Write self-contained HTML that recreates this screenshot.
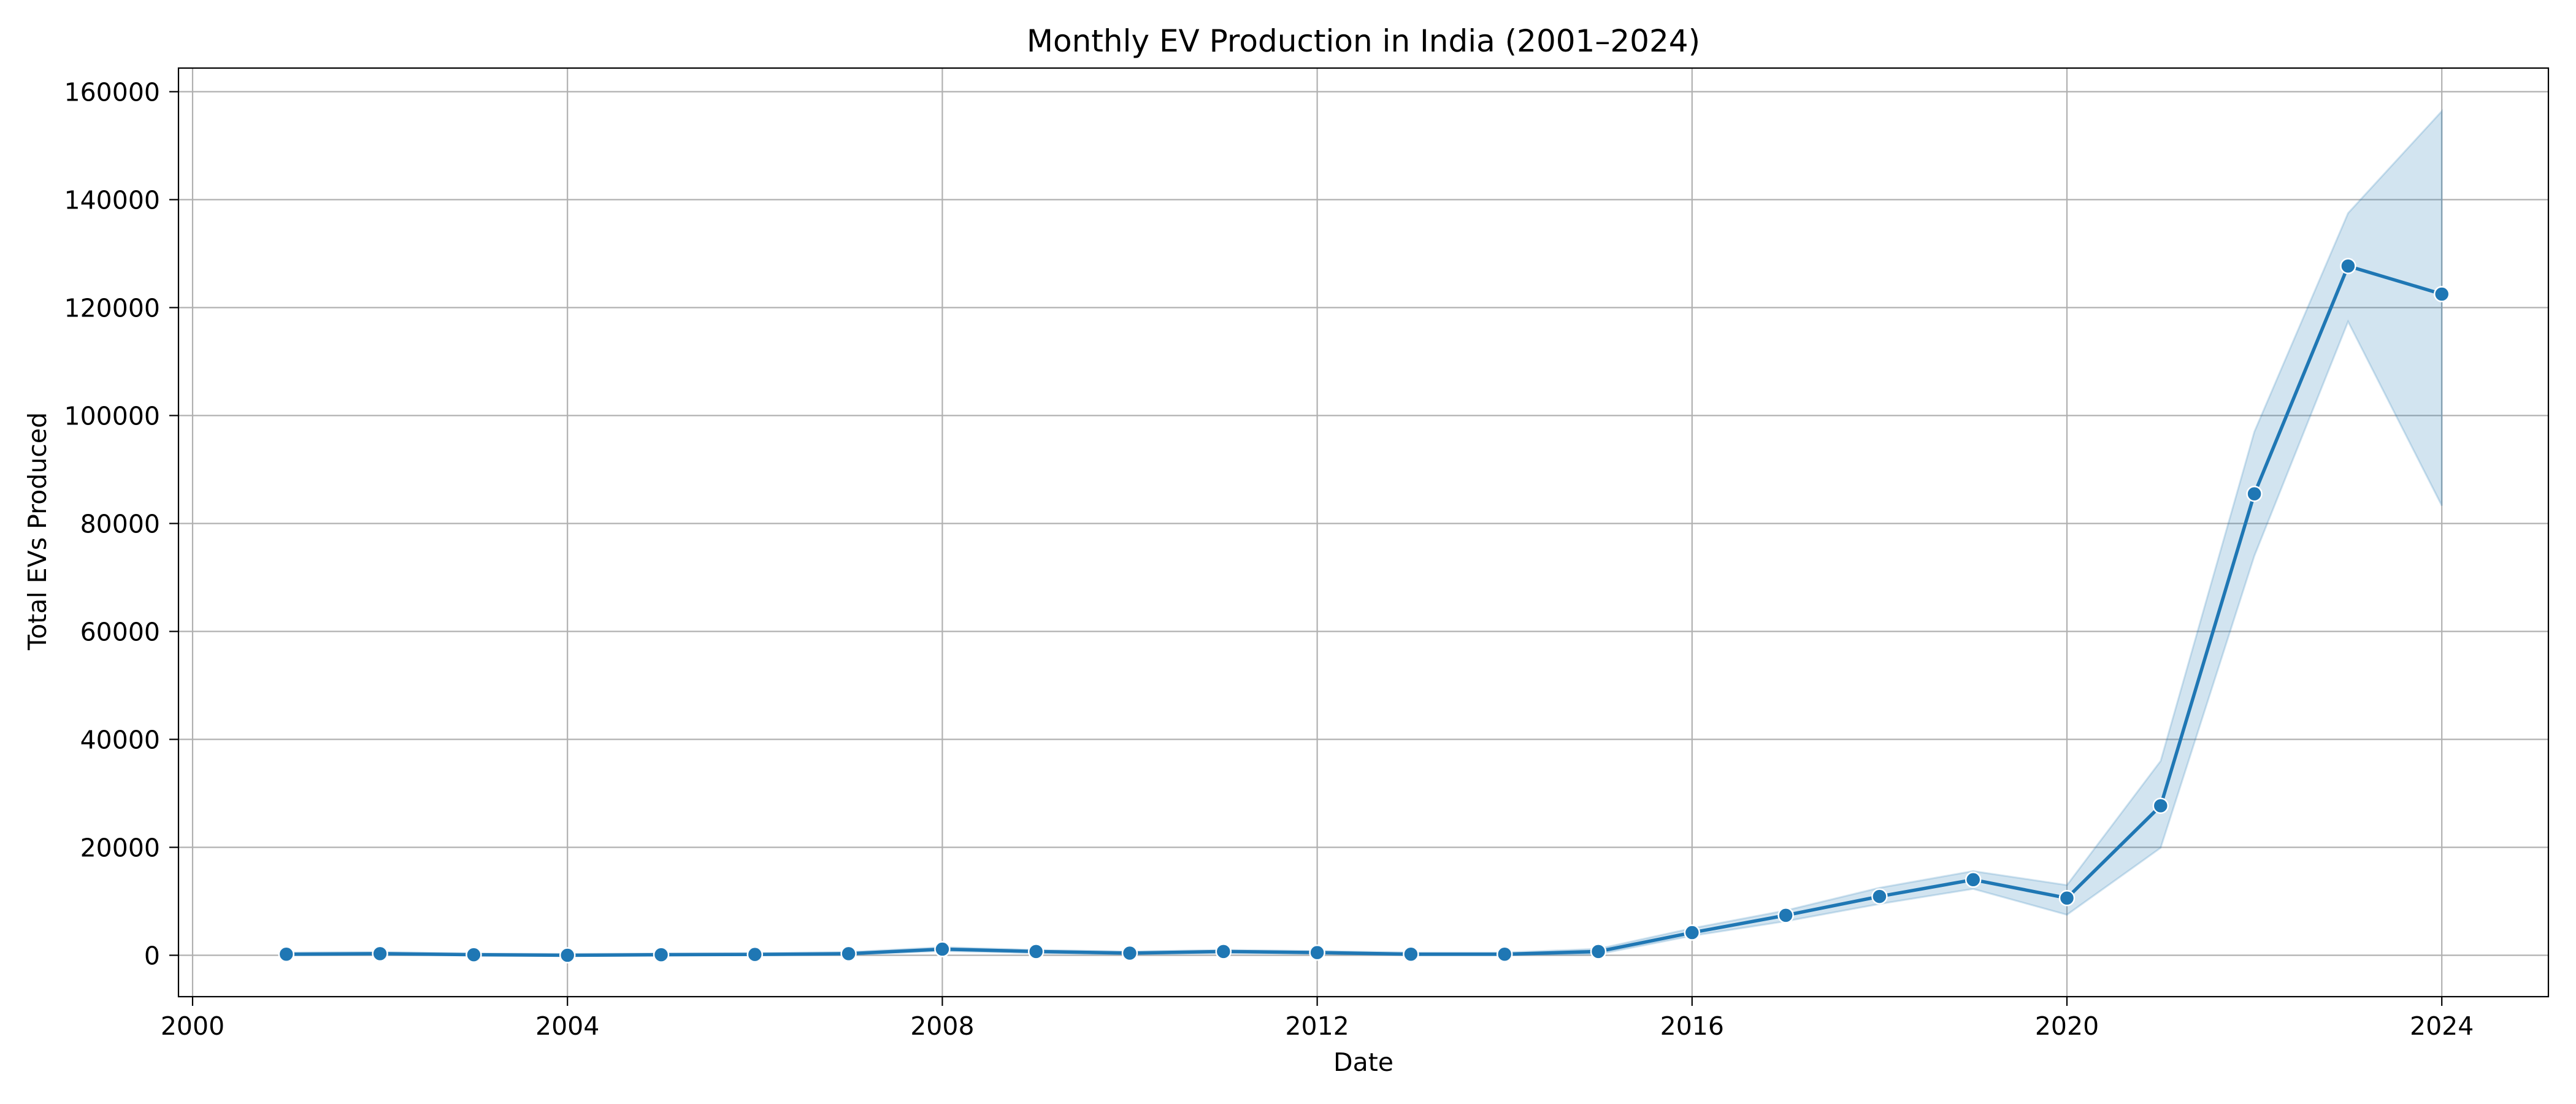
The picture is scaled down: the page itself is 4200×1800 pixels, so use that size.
<!DOCTYPE html>
<html><head><meta charset="utf-8"><style>
html,body{margin:0;padding:0;background:#fff;}
svg{display:block;font-family:"DejaVu Sans","Liberation Sans",sans-serif;}
</style></head><body>
<svg id="chart" width="4200" height="1800" viewBox="0 0 4200 1800" xmlns="http://www.w3.org/2000/svg">
<rect width="4200" height="1800" fill="#fff"/>
<text x="2223" y="84" font-size="50" text-anchor="middle">Monthly EV Production in India (2001–2024)</text>
<text x="2223" y="1746" font-size="41" text-anchor="middle">Date</text>
<text x="0" y="0" font-size="41" text-anchor="middle" transform="translate(75,866) rotate(-90)">Total EVs Produced</text>
<g id="grid"></g><g id="band"></g><g id="line"></g><g id="axes"></g>
</svg>
<script>
const years=[2001,2002,2003,2004,2005,2006,2007,2008,2009,2010,2011,2012,2013,2014,2015,2016,2017,2018,2019,2020,2021,2022,2023,2024];
const values=[200,300,100,0,100,150,300,1130,700,400,700,500,200,200,700,4200,7400,10900,14000,10600,27700,85500,127700,122500];
const upper=[500,600,350,250,350,400,600,1500,1000,700,1000,800,500,500,1200,5000,8300,12500,15600,13000,36000,97000,137500,156400];
const lower=[0,50,0,0,0,0,50,800,400,150,400,250,0,0,200,3600,6300,9500,12300,7500,19900,74000,117400,83300];
const xTicks=[2000,2004,2008,2012,2016,2020,2024];
const yTicks=[0,20000,40000,60000,80000,100000,120000,140000,160000];
const NS="http://www.w3.org/2000/svg";
const L=291,R=4155,T=111,B=1625;
function xs(v){return 314+(v-2000)*152.8;}
function ys(v){return 1557.5-v*(176/20000);}
function mk(tag,attrs,parent){const e=document.createElementNS(NS,tag);for(const k in attrs)e.setAttribute(k,attrs[k]);document.getElementById(parent).appendChild(e);return e;}
xTicks.forEach(t=>{
  const g=mk('line',{x1:xs(t),x2:xs(t),y1:T,y2:B,stroke:'#b0b0b0','stroke-width':2.2},'grid');
  
  
  const tk=mk('line',{x1:xs(t),x2:xs(t),y1:B,y2:B+15,stroke:'#000','stroke-width':2.2},'axes');
  
  
  const tx=mk('text',{x:xs(t),y:1687,'font-size':41,'text-anchor':'middle'},'axes');
  tx.textContent=t;
  
  
});
yTicks.forEach(t=>{
  const g=mk('line',{x1:L,x2:R,y1:ys(t),y2:ys(t),stroke:'#b0b0b0','stroke-width':2.2},'grid');
  
  
  const tk=mk('line',{x1:L-15,x2:L,y1:ys(t),y2:ys(t),stroke:'#000','stroke-width':2.2},'axes');
  
  
  const tx=mk('text',{x:L-30,y:ys(t)+15,'font-size':41,'text-anchor':'end'},'axes');
  tx.textContent=t;
  
  
});
let d='';
years.forEach((y,i)=>{d+=(i?'L':'M')+xs(y)+','+ys(upper[i]);});
for(let i=years.length-1;i>=0;i--)d+='L'+xs(years[i])+','+ys(lower[i]);
d+='Z';
const band=mk('path',{d:d,fill:'#1f77b4','fill-opacity':0.2,stroke:'#1f77b4','stroke-opacity':0.2,'stroke-width':3},'band');


const pts=years.map((y,i)=>xs(y)+','+ys(values[i])).join(' ');
const pl=mk('polyline',{points:pts,fill:'none',stroke:'#1f77b4','stroke-width':5.5,'stroke-linejoin':'round'},'line');


years.forEach((y,i)=>{
  const c=mk('circle',{cx:xs(y),cy:ys(values[i]),r:12,fill:'#1f77b4',stroke:'#fff','stroke-width':2.5},'line');
  
  
});
const fr=mk('rect',{x:L,y:T,width:R-L,height:B-T,fill:'none',stroke:'#000','stroke-width':2.2},'axes');


</script>
</body></html>
